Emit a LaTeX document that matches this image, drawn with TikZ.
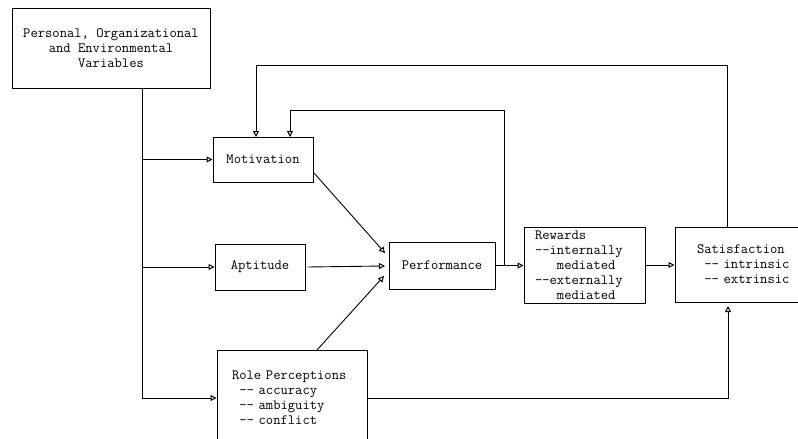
\documentclass[tikz,border=0pt]{standalone}
\usepackage{fontspec}
\usetikzlibrary{arrows.meta,calc}
\begin{document}
\begin{tikzpicture}[x=1pt,y=-1pt,
  box/.style={draw,line width=1pt,inner sep=0pt,font=\ttfamily\fontsize{14.2}{15}\selectfont},
  conn/.style={line width=0.9pt},
  arr/.style={conn,-{Triangle[open,length=6pt,width=6pt,line width=1pt]}}]
\useasboundingbox (0,0) rectangle (798,439);
\clip (0,0) rectangle (798,439);
% nodes
\node[box,minimum width=198pt,minimum height=80pt,align=center] (pev) at (111,48)
  {Personal, Organizational\\and Environmental\\Variables};
\node[box,minimum width=100pt,minimum height=45pt] (mot) at (263,159.5) {Motivation};
\node[box,minimum width=90pt,minimum height=46pt] (apt) at (260,267) {Aptitude};
\node[box,minimum width=106pt,minimum height=47pt] (perf) at (442,265.5) {Performance};
\node[box,text width=120pt,inner xsep=15pt,minimum height=96pt,align=left] (role) at (292,398)
  {Role Perceptions\\\phantom{M}-{}- accuracy\\\phantom{M}-{}- ambiguity\\\phantom{M}-{}- conflict};
\node[box,text width=99pt,inner xsep=11pt,minimum height=76pt,align=left] (rew) at (584.5,265)
  {Rewards\\-{}-internally\\\phantom{MMM}mediated\\-{}-externally\\\phantom{MMM}mediated};
\node[box,text width=100pt,inner xsep=22pt,minimum height=75pt,align=left] (sat) at (747,264.5)
  {Satisfaction\\\phantom{M}-{}- intrinsic\\\phantom{M}-{}- extrinsic};
% coordinates
\coordinate (sp) at (142,88);
\coordinate (pin1) at (385,253);
\coordinate (pin2) at (385,266);
\coordinate (pin3) at (384,276);
\coordinate (mout) at (314,173);
\coordinate (rout) at (317,350);
\coordinate (fbA) at (504,265);
\coordinate (motA) at (256,137);
\coordinate (motB) at (290,137);
\coordinate (satTop) at (727,227);
\coordinate (satBot) at (728,306);
% spine
\draw[arr] (sp) |- (role.west);
\draw[arr] (sp |- mot.west) -- (mot.west);
\draw[arr] (sp |- apt.west) -- (apt.west);
% into performance
\draw[arr] (mout) -- (pin1);
\draw[arr] ([xshift=2pt]apt.east) -- (pin2);
\draw[arr] (rout) -- (pin3);
% performance -> rewards -> satisfaction
\draw[arr] (perf.east) -- (perf.east -| rew.west);
\draw[arr] (rew.east) -- (rew.east -| sat.west);
% feedback loops
\draw[arr] (fbA) -- (fbA |- 0,110) -| (motB);
\draw[arr] (satTop) -- (satTop |- 0,65) -| (motA);
% role -> satisfaction
\draw[arr] (role.east) -- (role.east -| satBot) -- (satBot);
\end{tikzpicture}
\end{document}
